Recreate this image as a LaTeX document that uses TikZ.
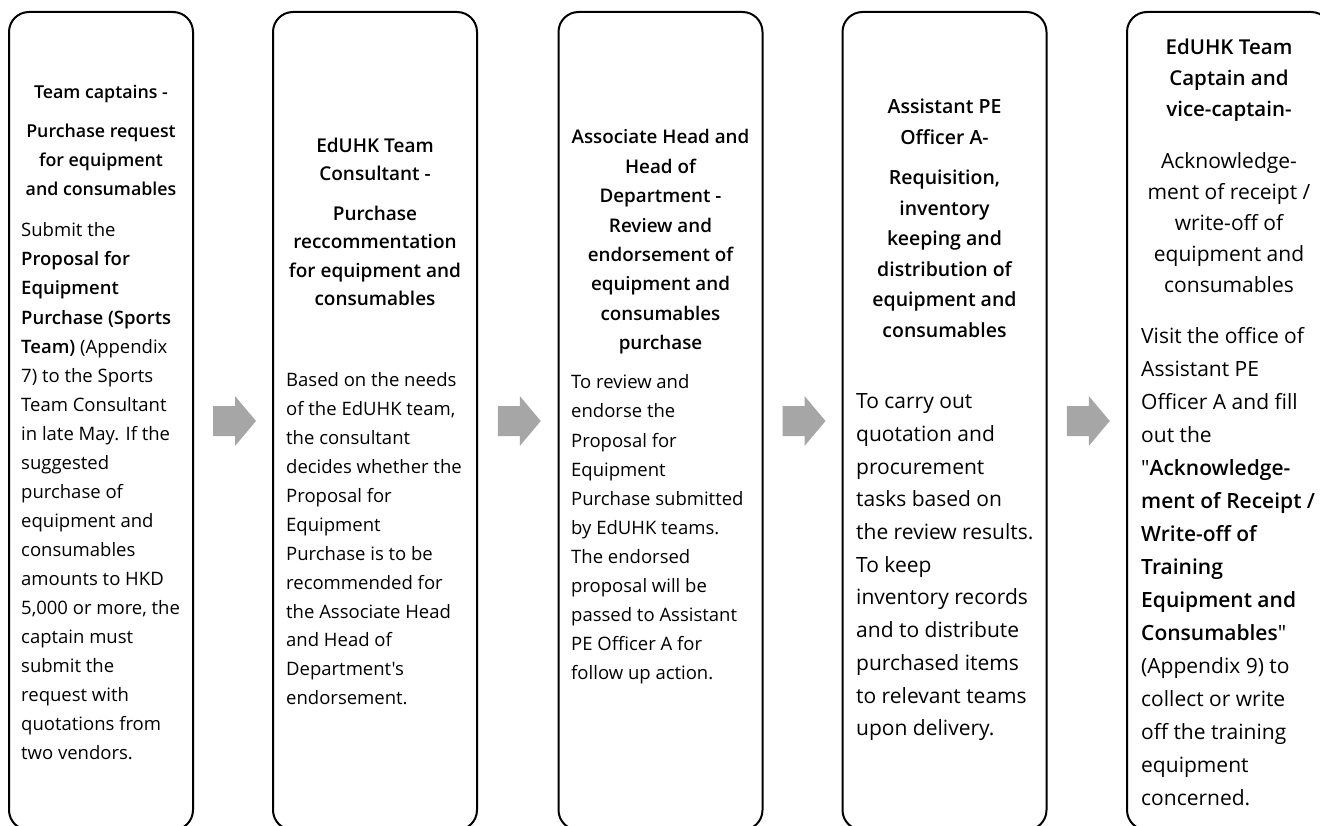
\documentclass[tikz,border=0pt]{standalone}
\usepackage{fontspec}
\setmainfont{Open Sans}[Ligatures=TeXOff,BoldFont={Open Sans Semibold}]
\usetikzlibrary{calc}
\definecolor{arrowgrey}{HTML}{A6A6A6}
\begin{document}
\begin{tikzpicture}[x=1pt,y=-1pt,
	stagebox/.style={draw,line width=2pt,rounded corners=20pt,minimum height=818pt,inner sep=0pt},
	headtext/.style={inner sep=0pt,anchor=north,align=center},
	bodytext/.style={inner sep=0pt,anchor=north west,align=left}]
		\useasboundingbox (0,0) rectangle (1320,826);
		\clip (0,0) rectangle (1320,826);
		\node[stagebox,minimum width=184pt] (cap) at (101,421) {};
		\node[stagebox,minimum width=204pt] (cons) at (375,421) {};
		\node[stagebox,minimum width=204pt] (head) at (660.5,421) {};
		\node[stagebox,minimum width=204pt] (off) at (944.5,421) {};
		\node[stagebox,minimum width=204pt] (ack) at (1229,421) {};
		\node[headtext,font=\fontsize{17.8pt}{29pt}\selectfont\bfseries] (capT) at (101,85) {Team captains -\\[10pt]Purchase request\\for equipment\\and consumables};
		\node[bodytext,font=\fontsize{18.5pt}{29.05pt}\selectfont] (capB) at (21,222.6) {Submit the\\\textbf{Proposal for}\\\textbf{Equipment}\\\textbf{Purchase (Sports}\\\textbf{Team)} (Appendix\\7) to the Sports\\Team Consultant\\in late May. If the\\suggested\\purchase of\\equipment and\\consumables\\amounts to HKD\\5,000 or more, the\\captain must\\submit the\\request with\\quotations from\\two vendors.};
		\node[headtext,font=\fontsize{19pt}{28.5pt}\selectfont\bfseries] (consT) at (375,137.4) {EdUHK Team\\Consultant -\\[11pt]Purchase\\reccommentation\\for equipment and\\consumables};
		\node[bodytext,font=\fontsize{18.5pt}{28.9pt}\selectfont] (consB) at (286,372.6) {Based on the needs\\of the EdUHK team,\\the consultant\\decides whether the\\Proposal for\\Equipment\\Purchase is to be\\recommended for\\the Associate Head\\and Head of\\Department's\\endorsement.};
		\node[headtext,font=\fontsize{18.8pt}{29.4pt}\selectfont\bfseries] (headT) at (660.5,129.5) {Associate Head and\\Head of\\Department -\\Review and\\endorsement of\\equipment and\\consumables\\purchase};
		\node[bodytext,font=\fontsize{18.5pt}{29.1pt}\selectfont] (headB) at (571,374.6) {To review and\\endorse the\\Proposal for\\Equipment\\Purchase submitted\\by EdUHK teams.\\The endorsed\\proposal will be\\passed to Assistant\\PE Officer A for\\follow up action.};
		\node[headtext,font=\fontsize{19.5pt}{30.5pt}\selectfont\bfseries] (offT) at (944.5,99.2) {Assistant PE\\Officer A-\\[10pt]Requisition,\\inventory\\keeping and\\distribution of\\equipment and\\consumables};
		\node[bodytext,font=\fontsize{21pt}{32.7pt}\selectfont] (offB) at (856,393.6) {To carry out\\quotation and\\procurement\\tasks based on\\the review results.\\To keep\\inventory records\\and to distribute\\purchased items\\to relevant teams\\upon delivery.};
		\node[headtext,font=\fontsize{20.5pt}{31pt}\selectfont\bfseries] (ackT) at (1229,38.3) {EdUHK Team\\Captain and\\vice-captain-};
		\node[headtext,font=\fontsize{21pt}{31pt}\selectfont] (ackS) at (1229,152.6) {Acknowledge-\\ment of receipt /\\write-off of\\equipment and\\consumables};
		\node[bodytext,font=\fontsize{21pt}{33pt}\selectfont] (ackB) at (1141,327.6) {Visit the office of\\Assistant PE\\Officer A and fill\\out the\\"\textbf{Acknowledge-}\\\textbf{ment of Receipt /}\\\textbf{Write-off of}\\\textbf{Training}\\\textbf{Equipment and}\\\textbf{Consumables}"\\(Appendix 9) to\\collect or write\\off the training\\equipment\\concerned.};
		\foreach \a/\b in {cap/cons,cons/head,head/off,off/ack}
			\fill[arrowgrey] ($(\a.east)!0.5!(\b.west)$) ++(-20,-15) -- ++(22,0) -- ++(0,-10) -- ++(21,25) -- ++(-21,25) -- ++(0,-10) -- ++(-22,0) -- cycle;
\end{tikzpicture}
\end{document}
